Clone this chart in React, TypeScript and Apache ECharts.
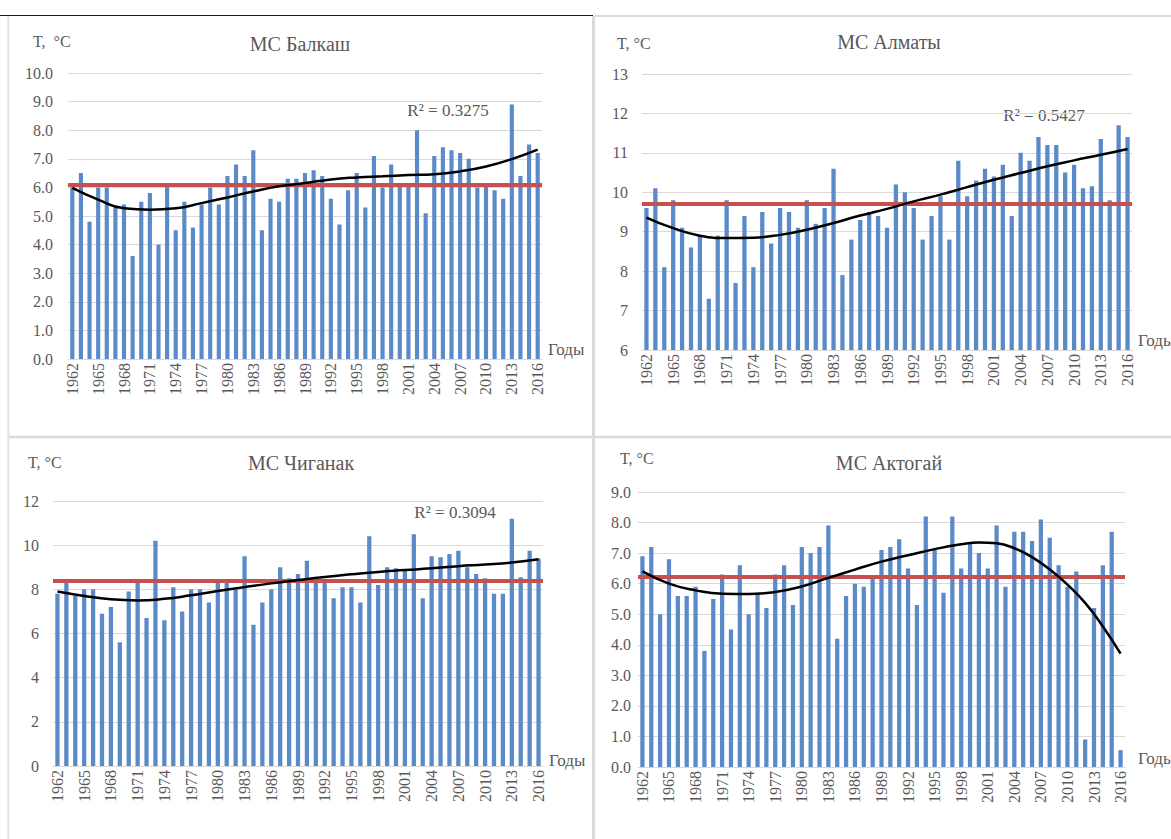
import React, { useEffect, useRef } from 'react';
import * as echarts from 'echarts';

const years = [
  '1962','1963','1964','1965','1966','1967','1968','1969','1970','1971',
  '1972','1973','1974','1975','1976','1977','1978','1979','1980','1981',
  '1982','1983','1984','1985','1986','1987','1988','1989','1990','1991',
  '1992','1993','1994','1995','1996','1997','1998','1999','2000','2001',
  '2002','2003','2004','2005','2006','2007','2008','2009','2010','2011',
  '2012','2013','2014','2015','2016',
];

const balkash = [
  6.0, 6.5, 4.8, 6.0, 6.0, 5.3, 5.4, 3.6, 5.5, 5.8,
  4.0, 6.1, 4.5, 5.5, 4.6, 5.4, 6.0, 5.4, 6.4, 6.8,
  6.4, 7.3, 4.5, 5.6, 5.5, 6.3, 6.3, 6.5, 6.6, 6.4,
  5.6, 4.7, 5.9, 6.5, 5.3, 7.1, 6.0, 6.8, 6.1, 6.1,
  8.0, 5.1, 7.1, 7.4, 7.3, 7.2, 7.0, 6.0, 6.1, 5.9,
  5.6, 8.9, 6.4, 7.5, 7.2,
];
const almaty = [
  9.6, 10.1, 8.1, 9.8, 9.1, 8.6, 8.9, 7.3, 8.9, 9.8,
  7.7, 9.4, 8.1, 9.5, 8.7, 9.6, 9.5, 9.1, 9.8, 9.2,
  9.6, 10.6, 7.9, 8.8, 9.3, 9.5, 9.4, 9.1, 10.2, 10.0,
  9.6, 8.8, 9.4, 9.9, 8.8, 10.8, 9.9, 10.3, 10.6, 10.4,
  10.7, 9.4, 11.0, 10.8, 11.4, 11.2, 11.2, 10.5, 10.7, 10.1,
  10.15, 11.35, 9.8, 11.7, 11.4,
];
const chiganak = [
  7.8, 8.3, 7.7, 8.0, 8.0, 6.9, 7.2, 5.6, 7.9, 8.3,
  6.7, 10.2, 6.6, 8.1, 7.0, 8.0, 8.0, 7.4, 8.3, 8.35,
  8.0, 9.5, 6.4, 7.4, 8.0, 9.0, 8.5, 8.7, 9.3, 8.3,
  8.4, 7.6, 8.1, 8.1, 7.4, 10.4, 8.2, 9.0, 8.95, 8.9,
  10.5, 7.6, 9.5, 9.45, 9.6, 9.75, 9.0, 8.7, 8.5, 7.8,
  7.8, 11.2, 8.55, 9.75, 9.4,
];
const aktogay = [
  6.9, 7.2, 5.0, 6.8, 5.6, 5.6, 5.9, 3.8, 5.5, 6.3,
  4.5, 6.6, 5.0, 5.7, 5.2, 6.3, 6.6, 5.3, 7.2, 7.0,
  7.2, 7.9, 4.2, 5.6, 6.0, 5.9, 6.2, 7.1, 7.2, 7.45,
  6.5, 5.3, 8.2, 7.1, 5.7, 8.2, 6.5, 7.3, 7.0, 6.5,
  7.9, 5.9, 7.7, 7.7, 7.4, 8.1, 7.5, 6.6, 5.9, 6.4,
  0.9, 5.2, 6.6, 7.7, 0.55,
];

// mean values (red lines)
const balkashMean = 6.1;
const almatyMean = 9.7;
const chiganakMean = 8.4;
const aktogayMean = 6.22;

// polynomial trend lines
const trendYears3 = ['1962','1965','1968','1971','1974','1977','1980','1983','1986','1989','1992','1995','1998','2001','2004','2007','2010','2013','2016'];
const balkashTrend = [5.98, 5.57, 5.27, 5.22, 5.27, 5.45, 5.65, 5.86, 6.04, 6.15, 6.28, 6.35, 6.39, 6.43, 6.46, 6.56, 6.73, 6.99, 7.32];
const almatyTrend = [9.36, 9.09, 8.90, 8.84, 8.85, 8.92, 9.05, 9.22, 9.41, 9.58, 9.77, 9.94, 10.13, 10.32, 10.49, 10.66, 10.81, 10.95, 11.10];
const chiganakTrend = [7.90, 7.70, 7.55, 7.50, 7.57, 7.73, 7.92, 8.10, 8.27, 8.42, 8.56, 8.68, 8.79, 8.87, 8.95, 9.05, 9.12, 9.21, 9.36];
const aktogayTrendYears = ['1962','1965','1968','1971','1974','1977','1980','1983','1986','1989','1992','1995','1998','2000','2002','2004','2006','2008','2010','2012','2014','2016'];
const aktogayTrend = [6.40, 6.00, 5.78, 5.67, 5.66, 5.73, 5.91, 6.19, 6.46, 6.72, 6.93, 7.13, 7.29, 7.35, 7.32, 7.16, 6.87, 6.46, 5.97, 5.37, 4.60, 3.71];

const titles = ['МС Балкаш', 'МС Алматы', 'МС Чиганак', 'МС Актогай'];
const r2Labels = ['R² = 0.3275', 'R² = 0.5427', 'R² = 0.3094', ''];
const yUnit = ['T,  °C', 'T, °C', 'T, °C', 'T, °C'];
const xName = 'Годы';

const FONT = '"Liberation Serif", "Times New Roman", serif';
const TXT = '#595959';
const BAR = '#5B8AC8';
const RED = '#C5504F';
const GRIDC = '#D9D9D9';

export default function App() {
  const ref = useRef<HTMLDivElement>(null);
  useEffect(() => {
    if (!ref.current) return;
    const chart = echarts.init(ref.current, null, { renderer: 'svg' });

    const panels = [
      { vals: balkash, mean: balkashMean, tY: trendYears3, tV: balkashTrend,
        grid: { left: 68, top: 73, width: 474, height: 286 }, y: { min: 0, max: 10, interval: 1, dec: 1, margin: 15 },
        title: [300, 44], unit: [33, 41], r2: [448, 110], xn: [548, 349] },
      { vals: almaty, mean: almatyMean, tY: trendYears3, tV: almatyTrend,
        grid: { left: 642, top: 74, width: 490, height: 276 }, y: { min: 6, max: 13, interval: 1, dec: 0, margin: 14 },
        title: [889, 42], unit: [617, 43], r2: [1044, 115], xn: [1138, 340] },
      { vals: chiganak, mean: chiganakMean, tY: trendYears3, tV: chiganakTrend,
        grid: { left: 53, top: 501, width: 490, height: 265 }, y: { min: 0, max: 12, interval: 2, dec: 0, margin: 14 },
        title: [301, 463], unit: [28, 462], r2: [455, 512], xn: [549, 760] },
      { vals: aktogay, mean: aktogayMean, tY: aktogayTrendYears, tV: aktogayTrend,
        grid: { left: 638, top: 492, width: 487, height: 275 }, y: { min: 0, max: 9, interval: 1, dec: 1, margin: 7 },
        title: [889, 463], unit: [620, 458], r2: [0, 0], xn: [1138, 758] },
    ];

    const grids: any[] = [];
    const xAxes: any[] = [];
    const yAxes: any[] = [];
    const series: any[] = [];
    const graphics: any[] = [];

    // borders
    graphics.push({ type: 'rect', shape: { x: 0, y: 0, width: 1171, height: 839 }, style: { fill: '#fff' }, z: -10 });
    graphics.push({ type: 'line', shape: { x1: 0, y1: 15.5, x2: 593, y2: 15.5 }, style: { stroke: '#1a1a1a', lineWidth: 1 } });
    graphics.push({ type: 'line', shape: { x1: 595, y1: 16, x2: 1171, y2: 16 }, style: { stroke: '#DADADA', lineWidth: 2 } });
    graphics.push({ type: 'line', shape: { x1: 593.5, y1: 16, x2: 593.5, y2: 839 }, style: { stroke: '#DADADA', lineWidth: 3 } });
    graphics.push({ type: 'line', shape: { x1: 8, y1: 437, x2: 1171, y2: 437 }, style: { stroke: '#DADADA', lineWidth: 2.5 } });
    graphics.push({ type: 'line', shape: { x1: 8.3, y1: 16, x2: 8.3, y2: 839 }, style: { stroke: '#E2E2E2', lineWidth: 2 } });

    panels.forEach((p, i) => {
      grids.push({ ...p.grid, containLabel: false });
      xAxes.push({
        type: 'category', gridIndex: i, data: years, boundaryGap: true,
        axisTick: { show: false },
        axisLine: { show: true, lineStyle: { color: GRIDC, width: 1 } },
        axisLabel: { rotate: 90, interval: 2, color: TXT, fontFamily: FONT, fontSize: 16, margin: 4 },
        splitLine: { show: false },
      });
      yAxes.push({
        type: 'value', gridIndex: i, min: p.y.min, max: p.y.max, interval: p.y.interval, startValue: p.y.min,
        axisLine: { show: false }, axisTick: { show: false },
        axisLabel: { color: TXT, fontFamily: FONT, fontSize: 16, margin: p.y.margin,
          formatter: (v: number) => v.toFixed(p.y.dec) },
        splitLine: { show: true, lineStyle: { color: GRIDC, width: 1 } },
      });
      series.push({
        type: 'bar', xAxisIndex: i, yAxisIndex: i, data: p.vals, barWidth: '48%',
        itemStyle: { color: BAR }, clip: true, z: 2,
        markLine: {
          symbol: 'none', silent: true, label: { show: false },
          lineStyle: { color: RED, width: 4, type: 'solid' },
          data: [{ yAxis: p.mean }],
        },
      });
      series.push({
        type: 'line', xAxisIndex: i, yAxisIndex: i, smooth: true, showSymbol: false, symbol: 'none',
        data: p.tY.map((yr, k) => [yr, p.tV[k]]),
        lineStyle: { color: '#000', width: 2.5 }, z: 5,
      });

      graphics.push({ type: 'text', x: p.title[0], y: p.title[1], style: { text: titles[i], fill: TXT, font: `20px ${FONT}`, textAlign: 'center', textVerticalAlign: 'middle' } });
      graphics.push({ type: 'text', x: p.unit[0], y: p.unit[1], style: { text: yUnit[i], fill: TXT, font: `16px ${FONT}`, textAlign: 'left', textVerticalAlign: 'middle' } });
      if (r2Labels[i]) {
        graphics.push({ type: 'text', x: p.r2[0], y: p.r2[1], style: { text: r2Labels[i], fill: TXT, font: `17px ${FONT}`, textAlign: 'center', textVerticalAlign: 'middle' } });
      }
      graphics.push({ type: 'text', x: p.xn[0], y: p.xn[1], style: { text: xName, fill: TXT, font: `17px ${FONT}`, textAlign: 'left', textVerticalAlign: 'middle' } });
    });

    chart.setOption({
      animation: false,
      backgroundColor: '#fff',
      grid: grids,
      xAxis: xAxes,
      yAxis: yAxes,
      series,
      graphic: { elements: graphics },
    });
    return () => chart.dispose();
  }, []);

  return (
    <div
      ref={ref}
      style={{ position: 'absolute', left: 0, top: 0, width: 1171, height: 839, background: '#fff' }}
    />
  );
}
